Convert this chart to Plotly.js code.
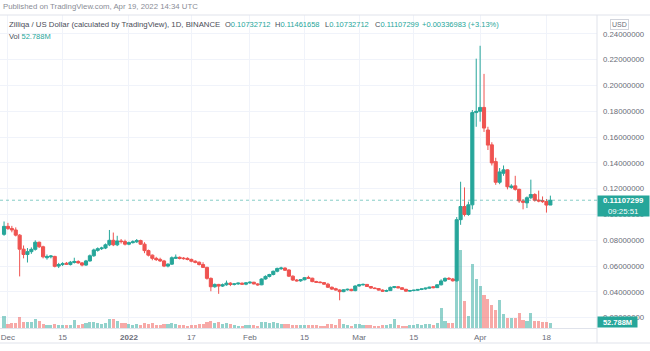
<!DOCTYPE html>
<html><head><meta charset="utf-8">
<script src="https://cdn.plot.ly/plotly-3.0.1.min.js"></script>
<style>html,body{margin:0;padding:0;background:#fff;}#chart{width:650px;height:351px;}</style>
</head><body><div id="chart"></div>
<script>
// ZIL/USD daily candles, Nov 30 2021 - Apr 19 2022
const decOpen  = [0.0846,0.0908,0.0892,0.0880,0.0840,0.0731,0.0690,0.0712,0.0730,0.0785,0.0750,0.0665,0.0672,0.0675,0.0600,0.0612,0.0622,0.0612,0.0628,0.0636,0.0625,0.0608,0.0640,0.0680,0.0722,0.0735,0.0740,0.0765,0.0800,0.0765,0.0795,0.0790];
const decHigh  = [0.0946,0.0935,0.0912,0.0900,0.0848,0.0760,0.0740,0.0745,0.0800,0.0790,0.0758,0.0690,0.0685,0.0680,0.0625,0.0630,0.0632,0.0640,0.0665,0.0645,0.0632,0.0648,0.0690,0.0735,0.0745,0.0750,0.0775,0.0880,0.0860,0.0835,0.0810,0.0805];
const decLow   = [0.0835,0.0880,0.0862,0.0830,0.0520,0.0660,0.0628,0.0695,0.0720,0.0740,0.0660,0.0650,0.0660,0.0590,0.0585,0.0600,0.0610,0.0605,0.0620,0.0618,0.0598,0.0602,0.0635,0.0672,0.0712,0.0725,0.0732,0.0755,0.0755,0.0755,0.0775,0.0760];
const decClose = [0.0908,0.0892,0.0880,0.0840,0.0731,0.0690,0.0712,0.0730,0.0785,0.0750,0.0672,0.0675,0.0678,0.0598,0.0612,0.0618,0.0615,0.0630,0.0636,0.0625,0.0608,0.0640,0.0680,0.0725,0.0735,0.0740,0.0765,0.0800,0.0765,0.0795,0.0790,0.0770];
const decVol   = [125,42,48,55,118,65,62,60,92,78,40,32,30,38,35,32,30,34,80,36,38,55,62,65,58,40,52,95,90,70,58,48];

const janOpen  = [0.0770,0.0782,0.0788,0.0798,0.0770,0.0720,0.0685,0.0660,0.0652,0.0640,0.0600,0.0615,0.0660,0.0668,0.0662,0.0660,0.0652,0.0638,0.0630,0.0612,0.0590,0.0505,0.0440,0.0458,0.0445,0.0455,0.0468,0.0458,0.0462,0.0468,0.0460];
const janHigh  = [0.0790,0.0800,0.0810,0.0805,0.0785,0.0728,0.0690,0.0672,0.0665,0.0648,0.0622,0.0675,0.0690,0.0675,0.0670,0.0668,0.0658,0.0645,0.0636,0.0630,0.0595,0.0512,0.0465,0.0462,0.0465,0.0488,0.0475,0.0468,0.0472,0.0472,0.0475];
const janLow   = [0.0762,0.0775,0.0780,0.0765,0.0700,0.0675,0.0645,0.0640,0.0632,0.0592,0.0590,0.0610,0.0655,0.0652,0.0650,0.0645,0.0630,0.0622,0.0605,0.0585,0.0495,0.0405,0.0432,0.0385,0.0438,0.0448,0.0445,0.0450,0.0455,0.0455,0.0452];
const janClose = [0.0782,0.0788,0.0798,0.0770,0.0720,0.0685,0.0660,0.0650,0.0640,0.0600,0.0615,0.0665,0.0668,0.0660,0.0658,0.0652,0.0638,0.0630,0.0612,0.0590,0.0505,0.0440,0.0458,0.0445,0.0455,0.0468,0.0458,0.0462,0.0468,0.0460,0.0470];
const janVol   = [40,32,38,36,52,45,48,35,30,42,38,55,45,35,28,26,32,35,38,42,62,70,58,65,45,50,38,32,25,22,30];

const febOpen  = [0.0470,0.0475,0.0462,0.0455,0.0500,0.0520,0.0535,0.0560,0.0580,0.0585,0.0570,0.0522,0.0492,0.0486,0.0494,0.0512,0.0506,0.0480,0.0476,0.0472,0.0460,0.0436,0.0425,0.0415,0.0402,0.0416,0.0420,0.0410];
const febHigh  = [0.0482,0.0478,0.0468,0.0505,0.0528,0.0540,0.0565,0.0588,0.0595,0.0590,0.0575,0.0528,0.0500,0.0498,0.0515,0.0525,0.0510,0.0486,0.0482,0.0476,0.0470,0.0442,0.0432,0.0420,0.0420,0.0425,0.0424,0.0450];
const febLow   = [0.0462,0.0458,0.0448,0.0452,0.0495,0.0512,0.0528,0.0552,0.0570,0.0562,0.0515,0.0485,0.0480,0.0478,0.0490,0.0502,0.0475,0.0470,0.0468,0.0455,0.0430,0.0415,0.0410,0.0335,0.0398,0.0410,0.0405,0.0405];
const febClose = [0.0475,0.0462,0.0455,0.0500,0.0520,0.0535,0.0560,0.0582,0.0585,0.0568,0.0522,0.0492,0.0486,0.0494,0.0510,0.0506,0.0480,0.0475,0.0472,0.0460,0.0436,0.0422,0.0415,0.0402,0.0416,0.0420,0.0410,0.0446];
const febVol   = [32,28,25,62,65,55,68,58,42,38,45,35,28,30,36,32,35,30,22,26,38,40,35,95,42,30,25,45];

const marOpen  = [0.0446,0.0455,0.0458,0.0442,0.0430,0.0426,0.0414,0.0406,0.0410,0.0435,0.0440,0.0432,0.0420,0.0406,0.0411,0.0413,0.0419,0.0423,0.0429,0.0440,0.0433,0.0455,0.0485,0.0505,0.0500,0.0486,0.0960,0.1062,0.1000,0.1075,0.1790];
const marHigh  = [0.0462,0.0465,0.0460,0.0445,0.0435,0.0430,0.0420,0.0418,0.0442,0.0445,0.0446,0.0436,0.0424,0.0415,0.0416,0.0422,0.0426,0.0432,0.0440,0.0444,0.0458,0.0498,0.0512,0.0515,0.0508,0.0980,0.1254,0.1210,0.1100,0.1810,0.2208];
const marLow   = [0.0440,0.0448,0.0438,0.0425,0.0422,0.0410,0.0400,0.0400,0.0408,0.0428,0.0428,0.0415,0.0402,0.0400,0.0404,0.0408,0.0414,0.0418,0.0425,0.0428,0.0430,0.0450,0.0478,0.0494,0.0480,0.0480,0.0920,0.0985,0.0990,0.1040,0.1680];
const marClose = [0.0455,0.0458,0.0442,0.0430,0.0426,0.0414,0.0406,0.0410,0.0435,0.0440,0.0432,0.0420,0.0406,0.0411,0.0413,0.0419,0.0423,0.0429,0.0436,0.0433,0.0455,0.0485,0.0505,0.0500,0.0486,0.0960,0.1062,0.1000,0.1075,0.1790,0.1800];
const marVol   = [42,36,32,30,22,24,35,30,42,95,30,25,22,28,32,40,35,38,45,32,48,210,75,52,48,900,820,285,125,675,515];

const aprOpen  = [0.1800,0.1830,0.1655,0.1540,0.1410,0.1250,0.1320,0.1346,0.1210,0.1222,0.1195,0.1105,0.1090,0.1130,0.1155,0.1112,0.1108,0.1100,0.10732712];
const aprHigh  = [0.2308,0.2090,0.1680,0.1560,0.1440,0.1360,0.1380,0.1350,0.1235,0.1300,0.1200,0.1120,0.1140,0.1270,0.1165,0.1185,0.1140,0.1120,0.11461658];
const aprLow   = [0.1720,0.1640,0.1500,0.1380,0.1230,0.1235,0.1300,0.1195,0.1200,0.1185,0.1090,0.1040,0.1050,0.1120,0.1100,0.1095,0.1090,0.1015,0.10732712];
const aprClose = [0.1830,0.1670,0.1538,0.1400,0.1250,0.1330,0.1346,0.1215,0.1220,0.1195,0.1105,0.1095,0.1130,0.1155,0.1110,0.1105,0.1100,0.1073,0.11107299];
const aprVol   = [440,350,305,240,190,295,150,105,105,105,160,85,75,160,75,75,65,65,52.788];

const tickDates  = ['2021-12-01','2021-12-15','2022-01-01','2022-01-17','2022-02-01','2022-02-15','2022-03-01','2022-03-15','2022-04-01','2022-04-18'];
const tickLabels = ['Dec','15','<b>2022</b>','17','Feb','15','Mar','15','Apr','18'];
const lastPrice = 0.11107299;

const open  = [].concat(decOpen, janOpen, febOpen, marOpen, aprOpen);
const high  = [].concat(decHigh, janHigh, febHigh, marHigh, aprHigh);
const low   = [].concat(decLow, janLow, febLow, marLow, aprLow);
const close = [].concat(decClose, janClose, febClose, marClose, aprClose);
const volM  = [].concat(decVol, janVol, febVol, marVol, aprVol);
const dates = open.map((_, i) => new Date(Date.UTC(2021, 10, 30 + i)).toISOString().slice(0, 10));

const UP = '#26a69a', DOWN = '#ef5350';
const volColors = close.map((c, i) => c >= open[i] ? 'rgba(38,166,154,0.5)' : 'rgba(239,83,80,0.5)');
const DAY = 86400000;

const traces = [
  { type: 'bar', x: dates, y: volM.map(v => v * 1e6), xaxis: 'x', yaxis: 'y',
    marker: { color: volColors, line: { width: 0 } }, width: 0.8 * DAY, hoverinfo: 'skip' },
  { type: 'candlestick', x: dates, open: open, high: high, low: low, close: close,
    xaxis: 'x', yaxis: 'y2', whiskerwidth: 0,
    increasing: { line: { color: UP, width: 1 }, fillcolor: UP },
    decreasing: { line: { color: DOWN, width: 1 }, fillcolor: DOWN } }
];

const F = 'Liberation Sans, Arial, sans-serif';
const TXT = '#4a4d57', AX = '#6a6d78', BORDER = '#e0e3eb';
const px = X => X / 597;
const py = Y => (328 - Y) / 313;

const layout = {
  width: 650, height: 351,
  margin: { l: 0, r: 53, t: 15, b: 23, pad: 0 },
  paper_bgcolor: '#ffffff', plot_bgcolor: '#ffffff',
  showlegend: false, hovermode: false,
  font: { family: F, size: 8, color: AX },
  boxgap: 0.2, boxgroupgap: 0, bargap: 0,
  xaxis: {
    type: 'date', range: ['2021-11-28 23:07', '2022-04-30 22:50'],
    tickmode: 'array', tickvals: tickDates, ticktext: tickLabels,
    tickfont: { family: F, size: 8, color: AX }, ticks: '', ticklabelstandoff: 1,
    showgrid: true, gridcolor: '#f0f3fa', gridwidth: 1,
    showline: true, linecolor: BORDER, linewidth: 1, zeroline: false,
    rangeslider: { visible: false }, fixedrange: true
  },
  yaxis: { range: [0, 3.3e9], visible: false, showgrid: false, zeroline: false, fixedrange: true },
  yaxis2: {
    overlaying: 'y', side: 'right', anchor: 'x',
    range: [0.01202, 0.25465], tick0: 0, dtick: 0.02, tickformat: '.8f',
    tickfont: { family: F, size: 7.8, color: AX }, ticks: '', ticklabelstandoff: 5,
    showgrid: true, gridcolor: '#f0f3fa', gridwidth: 1,
    showline: false, zeroline: false, fixedrange: true
  },
  shapes: [
    { type: 'line', xref: 'paper', yref: 'paper', x0: 0, x1: 650/597, y0: 1, y1: 1, line: { color: BORDER, width: 1 } },
    { type: 'line', xref: 'paper', yref: 'paper', x0: 0, x1: 650/597, y0: py(343), y1: py(343), line: { color: BORDER, width: 1 } },
    { type: 'line', xref: 'paper', yref: 'paper', x0: 1, x1: 1, y0: py(343), y1: 1, line: { color: BORDER, width: 1 } },
    { type: 'line', xref: 'paper', yref: 'y2', x0: 0, x1: 1, y0: lastPrice, y1: lastPrice, opacity: 0.55, line: { color: UP, width: 1, dash: 'dot' } }
  ],
  annotations: [
    { xref: 'paper', yref: 'paper', x: px(1), y: py(7), xanchor: 'left', yanchor: 'middle', showarrow: false,
      text: 'Published on TradingView.com, Apr 19, 2022 14:34 UTC', font: { family: F, size: 7.8, color: '#8a8d96' } },
    { xref: 'paper', yref: 'paper', x: px(7), y: py(25), xanchor: 'left', yanchor: 'middle', showarrow: false,
      text: 'Zilliqa / US Dollar (calculated by TradingView), 1D, BINANCE', font: { family: F, size: 7.8, color: TXT } },
    { xref: 'paper', yref: 'paper', x: px(223), y: py(25), xanchor: 'left', yanchor: 'middle', showarrow: false,
      text: '<span style="color:' + TXT + '">O</span>0.10732712', font: { family: F, size: 7.5, color: UP } },
    { xref: 'paper', yref: 'paper', x: px(273), y: py(25), xanchor: 'left', yanchor: 'middle', showarrow: false,
      text: '<span style="color:' + TXT + '">H</span>0.11461658', font: { family: F, size: 7.5, color: UP } },
    { xref: 'paper', yref: 'paper', x: px(323), y: py(25), xanchor: 'left', yanchor: 'middle', showarrow: false,
      text: '<span style="color:' + TXT + '">L</span>0.10732712', font: { family: F, size: 7.5, color: UP } },
    { xref: 'paper', yref: 'paper', x: px(373), y: py(25), xanchor: 'left', yanchor: 'middle', showarrow: false,
      text: '<span style="color:' + TXT + '">C</span>0.11107299', font: { family: F, size: 7.5, color: UP } },
    { xref: 'paper', yref: 'paper', x: px(420), y: py(25), xanchor: 'left', yanchor: 'middle', showarrow: false,
      text: '+0.00336983 (+3.13%)', font: { family: F, size: 7.5, color: UP } },
    { xref: 'paper', yref: 'paper', x: px(7), y: py(36), xanchor: 'left', yanchor: 'middle', showarrow: false,
      text: 'Vol <span style="color:' + UP + '">52.788M</span>', font: { family: F, size: 7.5, color: TXT } },
    { xref: 'paper', yref: 'paper', x: px(619), y: py(24), xanchor: 'center', yanchor: 'middle', showarrow: false,
      text: 'USD', font: { family: F, size: 7, color: AX }, bordercolor: '#d1d4dc', borderwidth: 1, borderpad: 1 },
    { xref: 'paper', yref: 'paper', x: 1, y: py(195), xanchor: 'left', yanchor: 'top', showarrow: false,
      text: '<b>0.11107299</b><br>09:25:51', align: 'center', width: 49, height: 18, borderpad: 1,
      bgcolor: UP, font: { family: F, size: 7.8, color: '#ffffff' } },
    { xref: 'paper', yref: 'paper', x: 1, y: py(321.5), xanchor: 'left', yanchor: 'middle', showarrow: false,
      text: '<b>52.788M</b>', align: 'center', width: 37, height: 8, borderpad: 1,
      bgcolor: UP, font: { family: F, size: 7.5, color: '#ffffff' } }
  ]
};

Plotly.newPlot('chart', traces, layout, { staticPlot: true, displayModeBar: false });
</script>
</body></html>
